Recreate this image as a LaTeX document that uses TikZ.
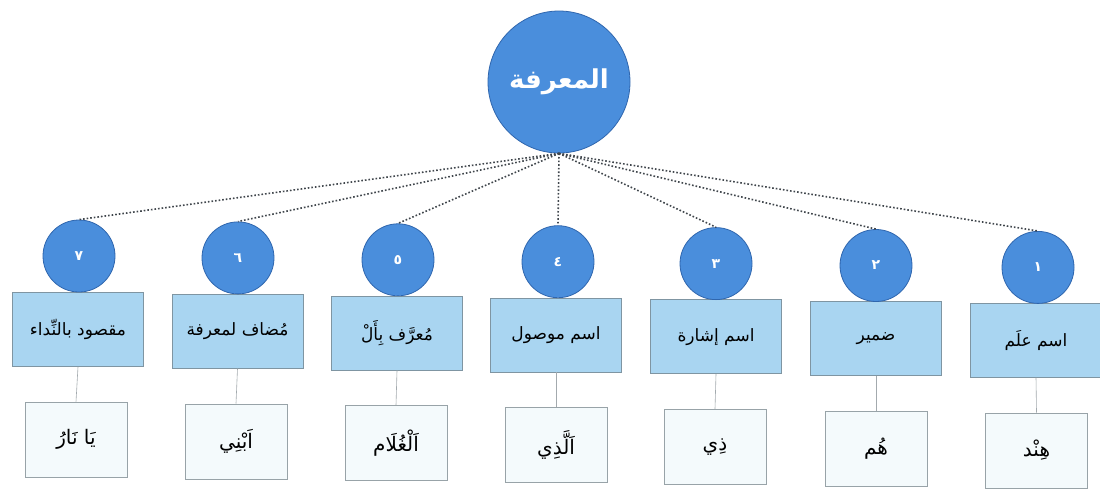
\documentclass[tikz,border=0pt]{standalone}
\usepackage{fontspec}
\TeXXeTstate=1
\newfontfamily\arabicfont[Script=Arabic]{DejaVu Sans}
\definecolor{circfill}{HTML}{4A8EDC}
\definecolor{circline}{HTML}{2F66AE}
\definecolor{boxfill}{HTML}{A9D5F1}
\definecolor{boxline}{HTML}{7F95A2}
\definecolor{exfill}{HTML}{F4FAFC}
\definecolor{exline}{HTML}{98A3A8}
\definecolor{linkgray}{HTML}{A3AAAE}
\definecolor{dotgray}{HTML}{40464C}
\tikzset{
  bigcirc/.style={circle, fill=circfill, draw=circline, line width=0.8pt, minimum size=142pt, inner sep=0pt, text=white, font=\arabicfont\bfseries\fontsize{26}{30}\selectfont},
  numcirc/.style={circle, fill=circfill, draw=circline, line width=0.8pt, minimum size=72pt, inner sep=0pt, text=white, font=\arabicfont\bfseries\fontsize{14}{16}\selectfont},
  catbox/.style={rectangle, fill=boxfill, draw=boxline, line width=0.6pt, minimum width=131pt, minimum height=74pt, inner sep=0pt, font=\arabicfont\fontsize{17}{20}\selectfont},
  exbox/.style={rectangle, fill=exfill, draw=exline, line width=0.6pt, minimum width=102pt, minimum height=75pt, inner sep=0pt, font=\arabicfont\fontsize{20}{24}\selectfont},
  fan/.style={dotgray, dotted, line width=1.6pt},
  link/.style={linkgray, line width=0.6pt}
}
\begin{document}
\begin{tikzpicture}[x=1pt, y=-1pt]
\fill[white] (0,0) rectangle (1100,491);
\useasboundingbox (0,0) rectangle (1100,491);

\node[bigcirc] (top) at (559,82) {\beginR المعرفة\endR};

% category boxes (left to right: 7 ... 1)
\node[catbox] (b7) at (78,329.5)   {\beginR مقصود بالنِّداء\endR};
\node[catbox] (b6) at (237.5,331.3) {\beginR مُضاف لمعرفة\endR};
\node[catbox] (b5) at (397,333.1)  {\beginR مُعرَّف بِأَلْ\endR};
\node[catbox] (b4) at (556,334.9)  {\beginR اسم موصول\endR};
\node[catbox] (b3) at (716,336.7)  {\beginR اسم إشارة\endR};
\node[catbox] (b2) at (876,338.5)  {\beginR ضمير\endR};
\node[catbox] (b1) at (1036,340.3) {\beginR اسم علَم\endR};

% number circles
\node[numcirc] (c7) at (79,256)    {\beginR ٧\endR};
\node[numcirc] (c6) at (238,257.9) {\beginR ٦\endR};
\node[numcirc] (c5) at (398,259.8) {\beginR ٥\endR};
\node[numcirc] (c4) at (558,261.7) {\beginR ٤\endR};
\node[numcirc] (c3) at (716,263.6) {\beginR ٣\endR};
\node[numcirc] (c2) at (876,265.5) {\beginR ٢\endR};
\node[numcirc] (c1) at (1038,267.4) {\beginR ١\endR};

% example boxes
\node[exbox] (e7) at (76,439.5)    {\beginR يَا نَارُ\endR};
\node[exbox] (e6) at (236,441.3)   {\beginR اَبْنِي\endR};
\node[exbox] (e5) at (396,443.1)   {\beginR اَلْغُلَام\endR};
\node[exbox] (e4) at (556,444.9)   {\beginR اَلَّذِي\endR};
\node[exbox] (e3) at (715,446.7)   {\beginR ذِي\endR};
\node[exbox] (e2) at (876,448.5)   {\beginR هُم\endR};
\node[exbox] (e1) at (1036.5,450.3) {\beginR هِنْد\endR};

% connectors
\foreach \i in {1,...,7} {
  \draw[fan] (top.south) -- (c\i.north);
  \draw[link] (b\i.south) -- (e\i.north);
}
\end{tikzpicture}
\end{document}
